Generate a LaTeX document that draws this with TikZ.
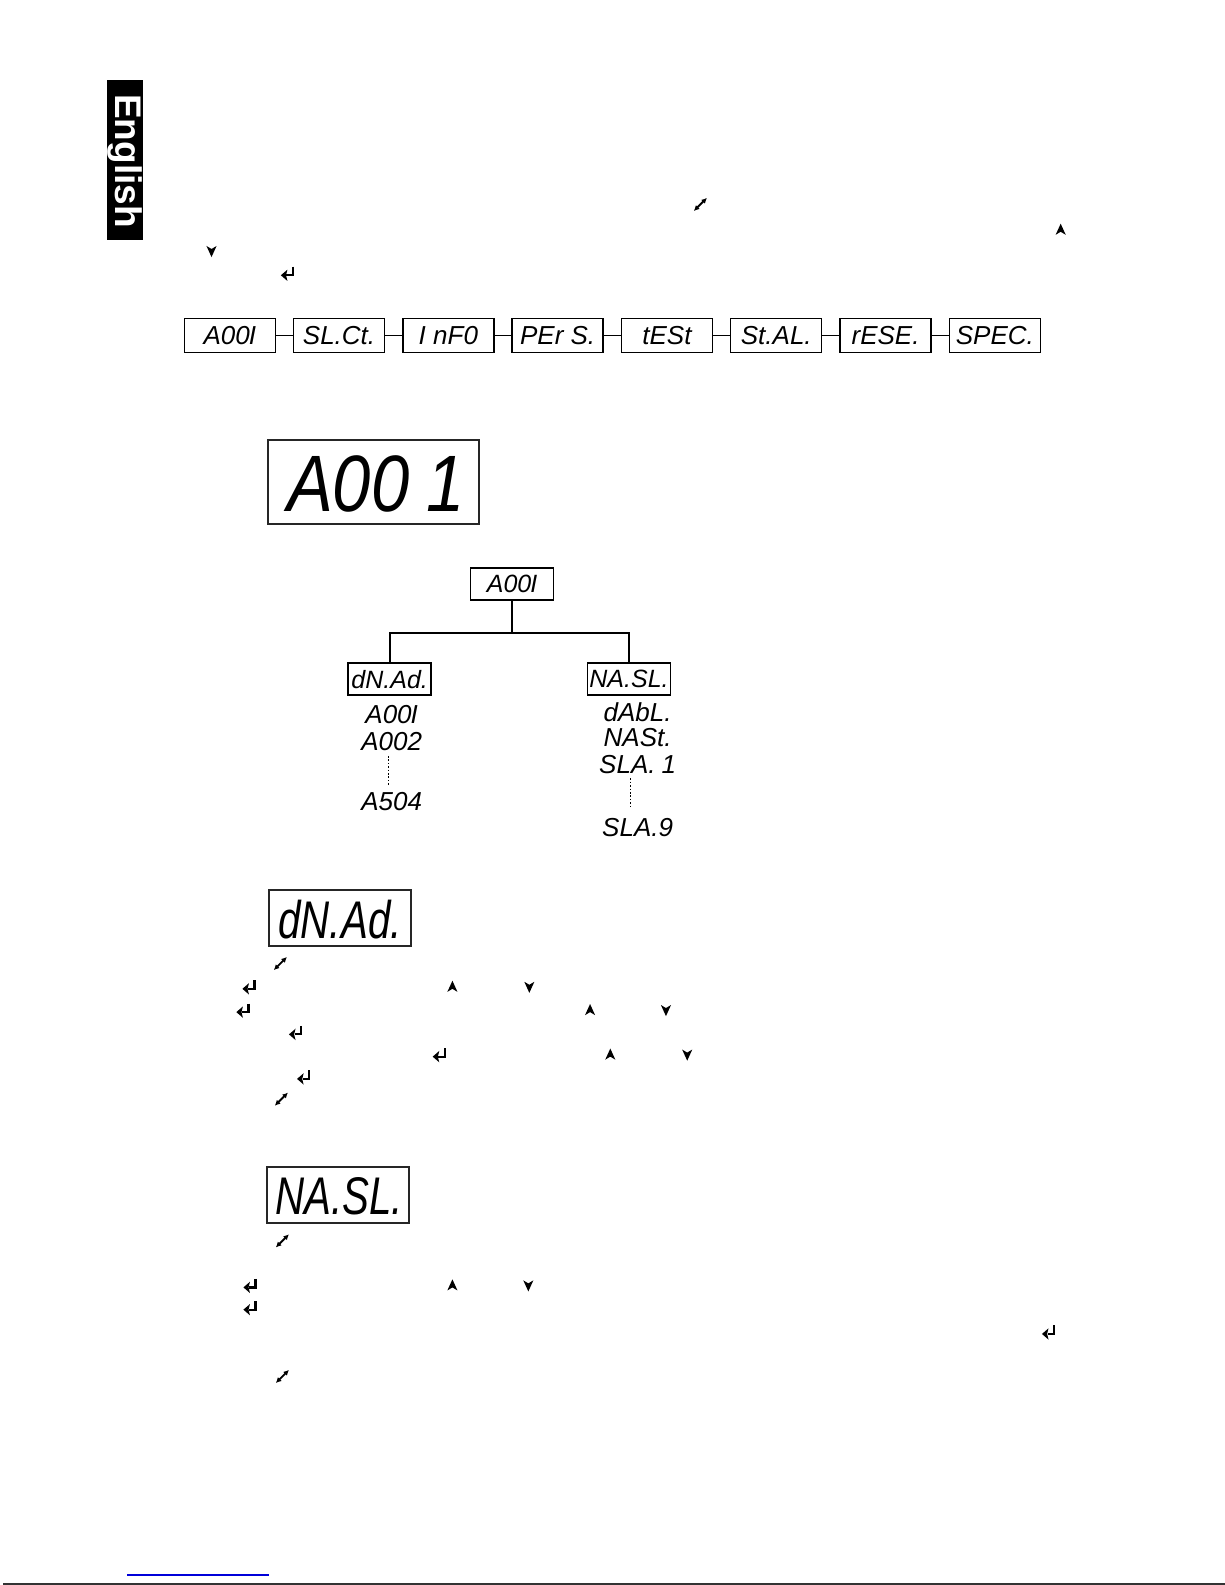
\documentclass[tikz,border=0pt]{standalone}
\usepackage{fontspec}
\usepackage{graphicx}
\setmainfont{Liberation Sans}
\usetikzlibrary{arrows.meta}
\newcommand\fseg[1]{\fontsize{#1}{#1}\selectfont\itshape}
\newcommand\nar[2]{\scalebox{#1}[1]{#2}}
\begin{document}
\begin{tikzpicture}[x=1.0121pt,y=-1.0121pt,
  menubox/.style={draw, line width=1.4pt, minimum width=91pt, minimum height=34pt, inner sep=0pt, font={\fseg{26}}},
  treebox/.style={draw, line width=1.4pt, minimum width=83pt, minimum height=32pt, inner sep=0pt, font={\fseg{25}}},
  bigbox/.style={draw=black!85, line width=2pt, inner sep=0pt},
  item/.style={inner sep=0pt, font={\fseg{26}}},
  link/.style={line width=1.4pt},
  treeline/.style={line width=2pt},
  dotline/.style={line width=1.3pt, dash pattern=on 1.6pt off 1.8pt},
  keyup/.pic={\fill (-5,5) -- (0,-6) -- (5,5) -- (0,2) -- cycle;},
  keydown/.pic={\fill (-5,-5) -- (0,6) -- (5,-5) -- (0,-2) -- cycle;},
  keyenter/.pic={\draw[line width=2.2pt] (4.5,-6.5) -- (4.5,2) -- (-2,2); \fill (-7.5,2) -- (-1,-3.6) -- (-2.4,2) -- (-1,7.6) -- cycle;},
  keyesc/.pic={\draw[line width=1.9pt, {Latex[length=5.5pt,width=5.5pt]}-{Latex[length=5.5pt,width=5.5pt]}] (-6.5,6.5) -- (6.5,-6.5);}
]
\useasboundingbox (0,0) rectangle (1210.35,1566.05);
\fill[white] (0,0) rectangle (1210.35,1566.05);

% language tab
\fill[black] (105.5,79.5) rectangle (141.5,237);
\node[text=white, rotate=-90, font=\bfseries\fontsize{37}{37}\selectfont, inner sep=0pt] (tab) at (123.5,159) {English};

% intro icons
\pic (i1) at (692,202) {keyesc};
\pic (i2) at (1048,227) {keyup};
\pic (i3) at (209,248) {keydown};
\pic (i4) at (285,270) {keyenter};

% menu row
\node[menubox] (m1) at (227,331.5) {A00\kern-1pt I};
\node[menubox] (m2) at (335,331.5) {SL.Ct.};
\node[menubox] (m3) at (443,331.5) {I nF0};
\node[menubox] (m4) at (551,331.5) {PEr S.};
\node[menubox] (m5) at (659,331.5) {tESt};
\node[menubox] (m6) at (767,331.5) {St.AL.};
\node[menubox] (m7) at (875,331.5) {rESE.};
\node[menubox] (m8) at (983,331.5) {SPEC.};
\foreach \a/\b in {m1/m2,m2/m3,m3/m4,m4/m5,m5/m6,m6/m7,m7/m8}
  \draw[link] (\a.east) -- (\b.west);

% big display A001
\node[bigbox, minimum width=210.5pt, minimum height=84pt] (d1) at (369,476.5) {};
\node[inner sep=0pt, font={\fseg{80}}] (d1t) at (371.5,478) {\nar{0.86}{A00\hspace{20pt}1}};

% tree
\node[treebox] (r) at (506,577) {A00\kern-1pt I};
\node[treebox] (l) at (385,671) {dN.Ad.};
\node[treebox] (rr) at (621.5,671) {NA.SL.};
\coordinate (j) at (506,625);
\draw[treeline] (r.south) -- (j);
\draw[treeline] (l.north) |- (j) -| (rr.north);

\node[item] (la1) at (387,706) {A00\kern-1pt I};
\node[item] (la2) at (387,733) {A002};
\node[item] (la3) at (387,792) {A504};
\coordinate (da1) at (384,747);
\coordinate (da2) at (384,776);
\draw[dotline] (da1) -- (da2);

\node[item] (ra1) at (630,704) {dAbL.};
\node[item] (ra2) at (630,729) {NASt.};
\node[item] (ra3) at (630,755) {SLA.\hspace{6pt}1};
\node[item] (ra4) at (630,818) {SLA.9};
\coordinate (db1) at (623,769);
\coordinate (db2) at (623,798);
\draw[dotline] (db1) -- (db2);

% dN.Ad. display
\node[bigbox, minimum width=141.7pt, minimum height=56.7pt] (d2) at (336,907) {};
\node[inner sep=0pt, font={\fseg{53}}] (d2t) at (336,909) {\nar{0.76}{dN.Ad.}};

\pic (k1) at (277,952) {keyesc};
\pic (k2) at (247,975) {keyenter};
\pic (k3) at (447,975) {keyup};
\pic (k4) at (523,975) {keydown};
\pic (k5) at (241,998) {keyenter};
\pic (k6) at (583,998) {keyup};
\pic (k7) at (658,998) {keydown};
\pic (k8) at (293,1020) {keyenter};
\pic (k9) at (435,1042) {keyenter};
\pic (k10) at (603,1042) {keyup};
\pic (k11) at (679,1042) {keydown};
\pic (k12) at (301,1064) {keyenter};
\pic (k13) at (278,1086) {keyesc};

% NA.SL. display
\node[bigbox, minimum width=141.7pt, minimum height=55.7pt] (d3) at (334,1180.5) {};
\node[inner sep=0pt, font={\fseg{53}}] (d3t) at (335,1182) {\nar{0.76}{NA.SL.}};

\pic (n1) at (279,1226) {keyesc};
\pic (n2) at (248,1270) {keyenter};
\pic (n3) at (447,1270) {keyup};
\pic (n4) at (522,1270) {keydown};
\pic (n5) at (248,1292) {keyenter};
\pic (n6) at (1037,1316) {keyenter};
\pic (n7) at (279,1360) {keyesc};

% footer
\coordinate (b1) at (125.5,1556.2);
\coordinate (b2) at (265.8,1556.2);
\draw[blue!85!black, line width=1.2pt] (b1) -- (b2);
\coordinate (c1) at (3,1565.1);
\coordinate (c2) at (1210.35,1565.1);
\draw[black!80, line width=1.2pt] (c1) -- (c2);
\end{tikzpicture}
\end{document}
